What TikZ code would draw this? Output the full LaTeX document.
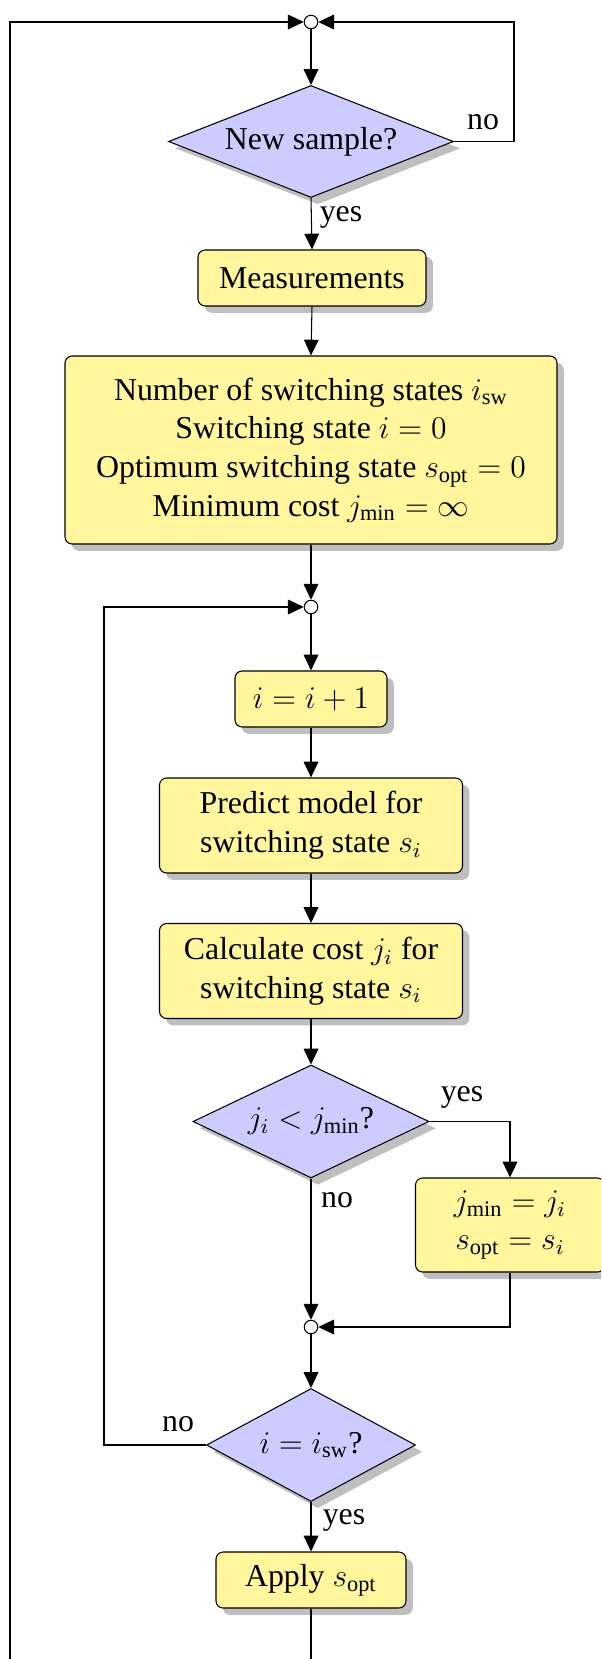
\documentclass[tikz,border=0pt]{standalone}
\usepackage{amsmath}
\usepackage[no-math]{fontspec}
\setmainfont{Liberation Serif}
\usetikzlibrary{shapes.geometric,shadows,arrows.meta}
\definecolor{boxfill}{RGB}{255,246,158}
\definecolor{decfill}{RGB}{204,204,255}
\newcommand\pxu{0.38pt}
\begin{document}
\begin{tikzpicture}[x=0.38pt,y=-0.38pt,
  every node/.style={font=\fontsize{12.1}{14.67}\selectfont},
  myshadow/.style={drop shadow={shadow xshift=2.6pt, shadow yshift=-2.6pt, fill=black!50, opacity=.5}},
  box/.style={draw, rounded corners=2.7pt, fill=boxfill, myshadow, align=center, inner sep=0pt},
  dec/.style={diamond, draw, fill=decfill, aspect=2.5, inner sep=0pt, myshadow},
  junc/.style={circle, draw, fill=white, inner sep=0pt, minimum size=13.5*\pxu},
  lbl/.style={inner sep=0pt},
  arr/.style={-{Triangle[length=6pt,width=5.6pt]}},
  line width=0.4pt]
\useasboundingbox (0,0) rectangle (601,1659);
\clip (0,0) rectangle (601,1659);

% nodes
\node[junc] (j0) at (311,22) {};
\node[dec, minimum width=285*\pxu, minimum height=112*\pxu] (d1) at (311,141.5) {New sample?};
\node[lbl] (no1) at (483,122) {no};
\node[lbl] (yes1) at (341,217) {yes};
\node[box, minimum width=228*\pxu, minimum height=56*\pxu] (meas) at (312,278) {Measurements};
\node[box, minimum width=492*\pxu, minimum height=188*\pxu] (init) at (311,450)
  {Number of switching states $i_{\text{sw}}$\\ Switching state $i=0$\\ Optimum switching state $s_{\text{opt}}=0$\\ Minimum cost $j_{\text{min}}=\infty$};
\node[junc] (j1) at (311,607) {};
\node[box, minimum width=152*\pxu, minimum height=56*\pxu] (inc) at (311,699) {$i=i+1$};
\node[box, minimum width=303*\pxu, minimum height=95*\pxu] (pred) at (311,825.5) {Predict model for\\ switching state $s_i$};
\node[box, minimum width=303*\pxu, minimum height=95*\pxu] (calc) at (311,971) {Calculate cost $j_i$ for\\ switching state $s_i$};
\node[dec, minimum width=236*\pxu, minimum height=113*\pxu] (d2) at (311,1121.5) {$j_i<j_{\text{min}}$?};
\node[lbl] (yes2) at (462,1097) {yes};
\node[box, minimum width=189*\pxu, minimum height=94*\pxu] (upd) at (510,1225) {$j_{\text{min}}=j_i$\\ $s_{\text{opt}}=s_i$};
\node[lbl] (no2) at (337,1200) {no};
\node[junc] (j2) at (311,1327) {};
\node[dec, minimum width=209*\pxu, minimum height=113*\pxu] (d3) at (311,1445) {$i=i_{\text{sw}}$?};
\node[lbl] (no3) at (178,1424.5) {no};
\node[lbl] (yes3) at (344,1520) {yes};
\node[box, minimum width=190*\pxu, minimum height=56*\pxu] (apply) at (311,1580) {Apply $s_{\text{opt}}$};

% bend coordinates
\coordinate (rloop) at (514,141.5);
\coordinate (yesbr) at (510,1121.5);
\coordinate (lloop) at (104,1445);
\coordinate (bot) at (311,1700);
\coordinate (botl) at (10,1700);

% connectors
\draw[arr] (j0) -- (d1.north);
\draw[arr] (d1.east) -- (rloop) |- (j0.east);
\draw[arr] (d1.south) -- (meas.north);
\draw[arr] (meas.south) -- (init.north);
\draw[arr] (init.south) -- (j1.north);
\draw[arr] (j1.south) -- (inc.north);
\draw[arr] (inc.south) -- (pred.north);
\draw[arr] (pred.south) -- (calc.north);
\draw[arr] (calc.south) -- (d2.north);
\draw[arr] (d2.east) -- (yesbr) -- (upd.north);
\draw[arr] (d2.south) -- (j2.north);
\draw[arr] (upd.south) |- (j2.east);
\draw[arr] (j2.south) -- (d3.north);
\draw[arr] (d3.west) -- (lloop) |- (j1.west);
\draw[arr] (d3.south) -- (apply.north);
\draw[arr] (apply.south) -- (bot) -- (botl) |- (j0.west);
\end{tikzpicture}
\end{document}
